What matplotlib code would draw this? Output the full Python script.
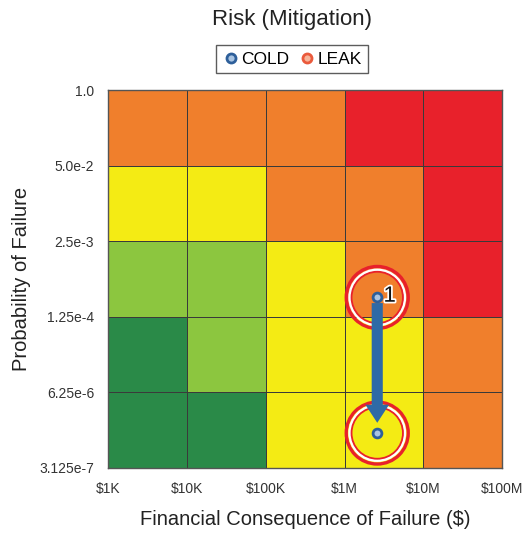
import numpy as np
import matplotlib.pyplot as plt
from matplotlib.colors import ListedColormap
from matplotlib.lines import Line2D
import matplotlib.patheffects as pe

plt.rcParams["font.family"] = ["Liberation Sans", "DejaVu Sans"]

# bin edges
x_edges = [1e3, 1e4, 1e5, 1e6, 1e7, 1e8]
x_labels = ["$1K", "$10K", "$100K", "$1M", "$10M", "$100M"]
y_edges = [3.125e-7, 6.25e-6, 1.25e-4, 2.5e-3, 5.0e-2, 1.0]
y_labels = ["3.125e-7", "6.25e-6", "1.25e-4", "2.5e-3", "5.0e-2", "1.0"]

# risk level per cell, rows bottom -> top (0 dark green .. 4 red)
risk = [[0, 0, 2, 2, 3],
        [0, 1, 2, 2, 3],
        [1, 1, 2, 3, 4],
        [2, 2, 3, 3, 4],
        [3, 3, 3, 4, 4]]
risk_colors = ["#2a8a48", "#8cc63f", "#f4eb14", "#f07f2c", "#e8212b"]

# mitigation: before -> after
cons = [2.6e6, 2.6e6]
prob = [2.7e-4, 1.25e-6]

fig = plt.figure(figsize=(5.32, 5.37), dpi=100)
ax = fig.add_axes([0.203, 0.1285, 0.741, 0.7035])

ax.pcolormesh(x_edges, y_edges, np.array(risk), cmap=ListedColormap(risk_colors),
              vmin=-0.5, vmax=4.5, edgecolors="#3a3a3a", linewidth=0.6)
ax.set_xscale("log")
ax.set_yscale("log")
ax.set_xlim(x_edges[0], x_edges[-1])
ax.set_ylim(y_edges[0], y_edges[-1])
ax.set_xticks(x_edges)
ax.set_xticklabels(x_labels, fontsize=10, color="#333333")
ax.set_yticks(y_edges)
ax.set_yticklabels(y_labels, fontsize=10, color="#333333")
ax.minorticks_off()
ax.tick_params(length=0, pad=10)
for s in ax.spines.values():
    s.set_color("#555555")
    s.set_linewidth(1.0)

ax.set_xlabel("Financial Consequence of Failure ($)", fontsize=14.5, color="#222222", labelpad=10)
ax.set_ylabel("Probability of Failure", fontsize=14.5, color="#222222", labelpad=6)
fig.text(0.549, 0.963, "Risk (Mitigation)", ha="center", va="center", fontsize=16, color="#222222")

# highlight rings
for cx, cy in zip(cons, prob):
    for r, lw, c in [(31, 2.4, "#e8212b"), (27.5, 2.0, "white"), (25.7, 1.3, "#e8212b")]:
        ax.scatter([cx], [cy], s=(2 * r * 72 / 100) ** 2, facecolors="none",
                   edgecolors=c, linewidths=lw, zorder=3)

# arrow
ax.annotate("", xy=(cons[1], prob[1] * 1.5), xytext=(cons[0], prob[0] * 0.8),
            arrowprops=dict(arrowstyle="simple,head_length=1.3,head_width=1.7,tail_width=0.8",
                            color="#2e6aa6", lw=0, shrinkA=0, shrinkB=0), zorder=4)

ax.scatter(cons, prob, s=40, c="#a9c4e2", edgecolors="#2e5f9a", linewidths=2.0, zorder=5)
ax.text(cons[0] * 1.2, prob[0] * 1.05, "1", fontsize=16, va="center", ha="left", color="#111111",
        path_effects=[pe.withStroke(linewidth=2.5, foreground="white")], zorder=6)

handles = [Line2D([], [], marker="o", ls="", ms=6.5, mfc="#a9c4e2", mec="#2e5f9a", mew=2),
           Line2D([], [], marker="o", ls="", ms=6.5, mfc="#f6b59a", mec="#ea5a3c", mew=2)]
fig.legend(handles, ["COLD", "LEAK"], loc="center", bbox_to_anchor=(0.549, 0.89), ncol=2,
           fontsize=12.5, frameon=True, fancybox=False, edgecolor="#333333",
           handletextpad=0.1, columnspacing=0.5, borderpad=0.35, handlelength=1.0)

fig.savefig("out.png", dpi=100)
